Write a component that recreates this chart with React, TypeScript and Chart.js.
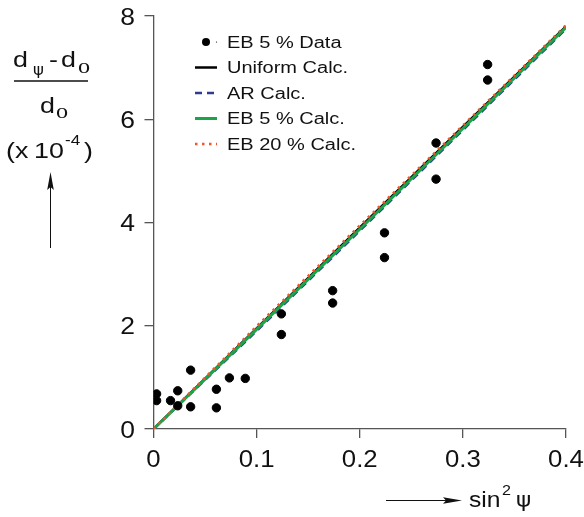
import React, { useEffect, useRef } from "react";
import { Chart, registerables } from "chart.js";

Chart.register(...registerables);

const dataX = [0.003, 0.003, 0.0165, 0.0235, 0.0235, 0.036, 0.036, 0.061, 0.061, 0.0736, 0.089, 0.124, 0.124, 0.1737, 0.1737, 0.224, 0.224, 0.274, 0.274, 0.324, 0.324];
const dataY = [0.68, 0.55, 0.55, 0.74, 0.45, 1.14, 0.43, 0.77, 0.41, 0.99, 0.98, 2.23, 1.83, 2.68, 2.44, 3.8, 3.32, 5.54, 4.84, 7.06, 6.76];

const calcX = [0, 0.1, 0.2, 0.3, 0.4];
const uniformY = [0, 1.95, 3.9, 5.85, 7.8];
const arY = [0, 1.9, 3.84, 5.79, 7.75];
const eb5Y = [0, 1.93, 3.87, 5.82, 7.78];
const eb20Y = [0, 1.99, 3.94, 5.88, 7.82];

const xTicks = [0, 0.1, 0.2, 0.3, 0.4];
const xTickLabels = ["0", "0.1", "0.2", "0.3", "0.4"];
const yTicks = [0, 2, 4, 6, 8];
const yTickLabels = ["0", "2", "4", "6", "8"];

const legendLabels = ["EB 5 % Data", "Uniform Calc.", "AR Calc.", "EB 5 % Calc.", "EB 20 % Calc."];

const FONT = "'Liberation Sans', Arial, Helvetica, sans-serif";
const SX = 1.22; // horizontal stretch of the original lettering

const pts = (xs: number[], ys: number[]) => xs.map((x, i) => ({ x, y: ys[i] }));

function txt(
  ctx: CanvasRenderingContext2D,
  s: string,
  x: number,
  y: number,
  font: string,
  align: CanvasTextAlign = "left",
  sx: number = SX
): number {
  ctx.save();
  ctx.font = font;
  ctx.textAlign = align;
  ctx.textBaseline = "alphabetic";
  ctx.translate(x, y);
  ctx.scale(sx, 1);
  ctx.fillText(s, 0, 0);
  const w = ctx.measureText(s).width * sx;
  ctx.restore();
  return w;
}

const decorPlugin = {
  id: "decor",
  afterDraw(chart: any) {
    const ctx = chart.ctx as CanvasRenderingContext2D;
    const xs = chart.scales.x;
    const ys = chart.scales.y;
    ctx.save();
    ctx.fillStyle = "#111";
    ctx.strokeStyle = "#111";

    // ---- Tick labels ----
    const tickFont = `23px ${FONT}`;
    xTicks.forEach((v, i) => {
      txt(ctx, xTickLabels[i], xs.getPixelForValue(v), 467, tickFont, "center", 1.12);
    });
    yTicks.forEach((v, i) => {
      txt(ctx, yTickLabels[i], 135, ys.getPixelForValue(v) + 8.5, tickFont, "right", 1.15);
    });

    // ---- Legend ----
    const lx0 = 195, lx1 = 217, tx = 227;
    const rowY = [42, 67.5, 93, 118.5, 144];
    legendLabels.forEach((lab, i) => {
      const y = rowY[i];
      ctx.save();
      if (i === 0) {
        ctx.fillStyle = "#000";
        ctx.beginPath();
        ctx.arc(206, y, 4, 0, Math.PI * 2);
        ctx.fill();
        ctx.beginPath();
        ctx.arc(216.5, y, 0.6, 0, Math.PI * 2);
        ctx.fill();
      } else {
        const ds = chart.data.datasets[[0, 4, 3, 2, 1][i]];
        ctx.strokeStyle = ds.borderColor;
        ctx.lineWidth = ds.borderWidth;
        ctx.setLineDash(ds.borderDash || []);
        ctx.beginPath();
        ctx.moveTo(lx0, y);
        ctx.lineTo(lx1, y);
        ctx.stroke();
      }
      ctx.restore();
      txt(ctx, lab, tx, y + 5.8, `16px ${FONT}`, "left", 1.25);
    });

    // ---- Y title ----
    const tf = `22px ${FONT}`;
    const subSerif = `21px 'Liberation Serif', 'Times New Roman', serif`;
    txt(ctx, "d", 13, 67, tf);
    txt(ctx, "\u03c8", 33, 75, `15px 'DejaVu Sans', sans-serif`, "left", 1.1);
    txt(ctx, "-", 49, 67, tf);
    txt(ctx, "d", 61, 67, tf);
    txt(ctx, "o", 78, 73, subSerif, "left", 1.15);
    ctx.lineWidth = 1.3;
    ctx.beginPath();
    ctx.moveTo(14, 81);
    ctx.lineTo(88, 81);
    ctx.stroke();
    txt(ctx, "d", 40, 113, tf);
    txt(ctx, "o", 56, 118, subSerif, "left", 1.15);
    txt(ctx, "(", 6, 158, tf);
    txt(ctx, "x", 15, 158, tf);
    txt(ctx, "10", 34, 158, tf);
    txt(ctx, "-4", 65, 145, `14px ${FONT}`);
    txt(ctx, ")", 84, 158, tf);
    // arrow up
    ctx.lineWidth = 1;
    ctx.beginPath();
    ctx.moveTo(50.5, 248);
    ctx.lineTo(50.5, 185);
    ctx.stroke();
    ctx.beginPath();
    ctx.moveTo(50.5, 172);
    ctx.lineTo(47.2, 190);
    ctx.lineTo(50.5, 187);
    ctx.lineTo(53.8, 190);
    ctx.closePath();
    ctx.fill();

    // ---- X title ----
    ctx.lineWidth = 1;
    ctx.beginPath();
    ctx.moveTo(386, 500.5);
    ctx.lineTo(450, 500.5);
    ctx.stroke();
    ctx.beginPath();
    ctx.moveTo(462, 500.5);
    ctx.lineTo(443, 497.2);
    ctx.lineTo(446, 500.5);
    ctx.lineTo(443, 503.8);
    ctx.closePath();
    ctx.fill();
    txt(ctx, "sin", 469, 507, `22px ${FONT}`, "left", 1.12);
    txt(ctx, "2", 502, 495, `14px ${FONT}`, "left", 1.15);
    txt(ctx, "\u03c8", 516, 507, `22px 'DejaVu Sans', sans-serif`, "left", 1.05);

    ctx.restore();
  },
};

export default function App() {
  const ref = useRef<HTMLCanvasElement | null>(null);
  useEffect(() => {
    if (!ref.current) return;
    const axisCommon = {
      type: "linear" as const,
      ticks: { display: false },
      grid: {
        display: true,
        drawOnChartArea: false,
        drawTicks: true,
        tickLength: 9,
        color: "#555",
        lineWidth: 1.3,
      },
      border: { display: true, color: "#555", width: 1.3 },
    };
    const chart = new Chart(ref.current, {
      type: "scatter",
      data: {
        datasets: [
          {
            label: legendLabels[0],
            data: pts(dataX, dataY),
            backgroundColor: "#000",
            borderColor: "#000",
            pointRadius: 4.2,
            pointHoverRadius: 4.2,
            showLine: false,
          },
          {
            label: legendLabels[4],
            data: pts(calcX, eb20Y),
            borderColor: "#f0562a",
            borderWidth: 2.5,
            borderDash: [2.5, 4.5],
            pointRadius: 0,
            showLine: true,
          },
          {
            label: legendLabels[3],
            data: pts(calcX, eb5Y),
            borderColor: "#1aa54b",
            borderWidth: 3,
            pointRadius: 0,
            showLine: true,
          },
          {
            label: legendLabels[2],
            data: pts(calcX, arY),
            borderColor: "#2e3b92",
            borderWidth: 2.5,
            borderDash: [7, 5],
            pointRadius: 0,
            showLine: true,
          },
          {
            label: legendLabels[1],
            data: pts(calcX, uniformY),
            borderColor: "#000",
            borderWidth: 2.5,
            pointRadius: 0,
            showLine: true,
          },
        ],
      },
      options: {
        animation: false,
        responsive: false,
        maintainAspectRatio: false,
        events: [],
        layout: { padding: { left: 0, right: 18, top: 16, bottom: 0 } },
        plugins: { legend: { display: false }, tooltip: { enabled: false } },
        scales: {
          x: {
            ...axisCommon,
            min: 0,
            max: 0.4,
            afterBuildTicks: (scale: any) => {
              scale.ticks = xTicks.map((v) => ({ value: v }));
            },
            afterFit: (scale: any) => {
              scale.height = 88;
            },
          },
          y: {
            ...axisCommon,
            min: 0,
            max: 8,
            afterBuildTicks: (scale: any) => {
              scale.ticks = yTicks.map((v) => ({ value: v }));
            },
            afterFit: (scale: any) => {
              scale.width = 153.5;
            },
          },
        },
      },
      plugins: [decorPlugin],
    });
    return () => chart.destroy();
  }, []);
  return (
    <div style={{ position: "absolute", left: 0, top: 0, width: 584, height: 517, background: "#fff" }}>
      <canvas ref={ref} width={584} height={517} style={{ width: 584, height: 517 }} />
    </div>
  );
}
